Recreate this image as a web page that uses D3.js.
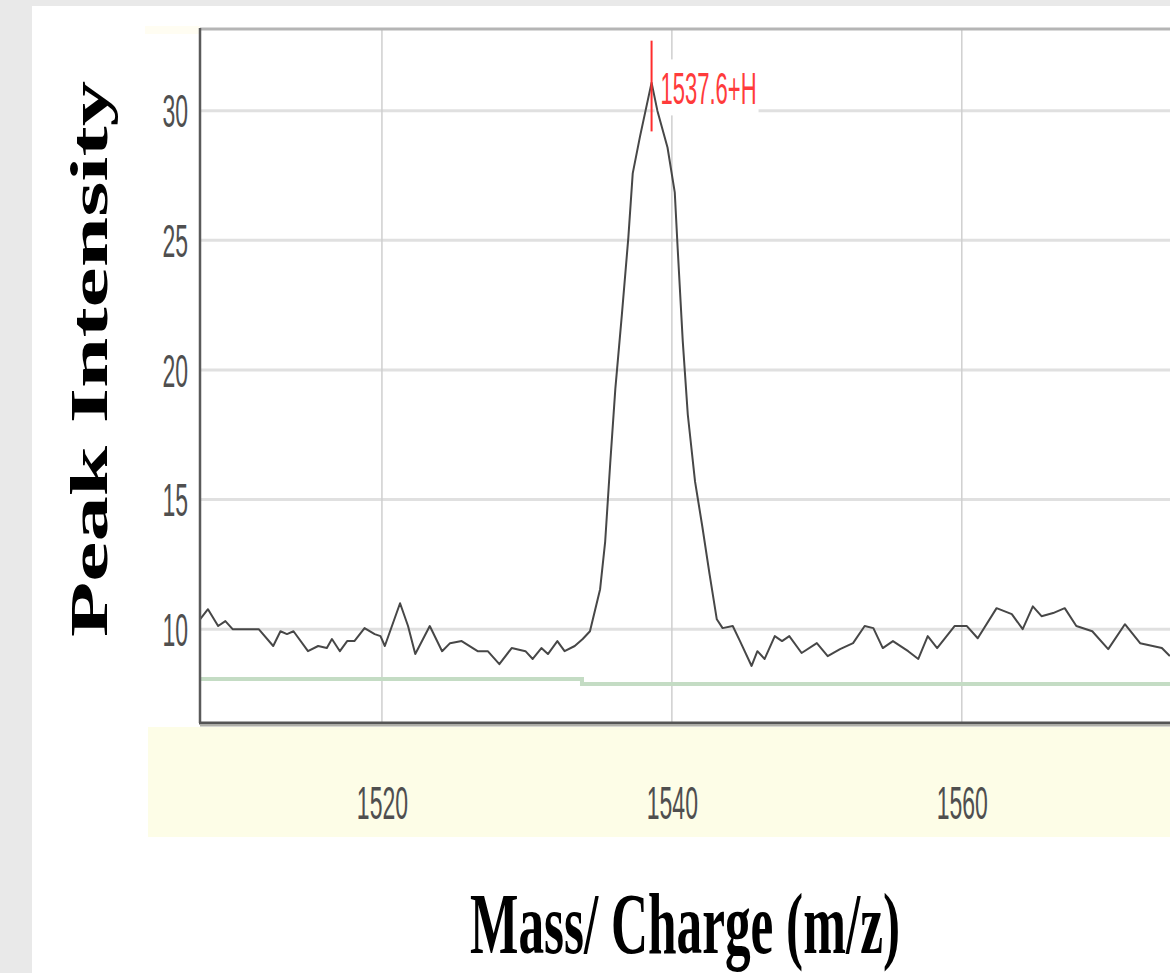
<!DOCTYPE html>
<html>
<head>
<meta charset="utf-8">
<script src="https://cdn.jsdelivr.net/npm/d3@7"></script>
<style>
  html, body { margin: 0; padding: 0; background: #e9e9e9; }
  svg { display: block; }
</style>
</head>
<body>
<svg id="chart" width="1170" height="973"></svg>
<script>
// ---- data ----
const mzValues = [
  1507.45, 1508.0, 1508.7, 1509.2, 1509.7, 1511.5, 1512.5, 1513.0, 1513.45, 1513.9,
  1514.9, 1515.6, 1516.2, 1516.55, 1517.1, 1517.6, 1518.1, 1518.8, 1519.5, 1519.9,
  1520.2, 1521.25, 1521.8, 1522.3, 1523.3, 1524.15, 1524.7, 1525.5, 1526.6, 1527.3,
  1528.1, 1528.95, 1529.9, 1530.4, 1531.0, 1531.45, 1532.1, 1532.6, 1533.3, 1533.85,
  1534.35, 1535.05, 1535.4, 1535.75, 1536.1, 1536.55, 1537.0, 1537.3, 1537.8, 1538.6,
  1539.0, 1539.7, 1540.2, 1540.4, 1540.75, 1541.1, 1541.6, 1542.1, 1542.6, 1543.1,
  1543.5, 1544.2, 1544.7, 1545.5, 1545.9, 1546.4, 1547.1, 1547.6, 1548.1, 1548.95,
  1550.0, 1550.75, 1551.6, 1552.5, 1553.3, 1553.9, 1554.55, 1555.25, 1556.3, 1557.0,
  1557.65, 1558.3, 1559.5, 1560.35, 1561.1, 1562.4, 1563.45, 1564.2, 1564.9, 1565.5,
  1566.3, 1567.1, 1567.9, 1569.0, 1570.1, 1571.25, 1572.3, 1573.8, 1574.35
];
const intensityValues = [
  10.38, 10.77, 10.12, 10.31, 10.0, 10.0, 9.35, 9.92, 9.81, 9.92,
  9.15, 9.35, 9.27, 9.62, 9.15, 9.54, 9.54, 10.04, 9.81, 9.73,
  9.35, 11.0, 10.12, 9.04, 10.12, 9.15, 9.46, 9.54, 9.15, 9.15,
  8.65, 9.27, 9.15, 8.85, 9.27, 9.04, 9.54, 9.15, 9.35, 9.62,
  9.92, 11.54, 13.38, 16.42, 19.27, 22.12, 25.12, 27.58, 29.0, 31.08,
  30.0, 28.58, 26.85, 24.69, 21.12, 18.27, 15.69, 13.96, 12.12, 10.38,
  10.04, 10.12, 9.54, 8.58, 9.15, 8.85, 9.73, 9.54, 9.73, 9.08,
  9.46, 8.96, 9.23, 9.46, 10.12, 10.04, 9.27, 9.54, 9.15, 8.85,
  9.73, 9.27, 10.12, 10.12, 9.65, 10.81, 10.58, 10.0, 10.88, 10.5,
  10.62, 10.81, 10.12, 9.92, 9.23, 10.19, 9.46, 9.27, 8.96
];
const baselineMz = [1507.45, 1533.8, 1576];
const baselineIntensity = [8.08, 7.88, 7.88];
const xTicks = [1520, 1540, 1560];
const yTicks = [10, 15, 20, 25, 30];
const peakMz = [1538.6];
const peakMarkerTop = [32.7];
const peakMarkerBottom = [29.2];
const peakLabels = ["1537.6+H"];
const xDomain = [1507.45, 1574.5];
const yDomain = [6.38, 33.15];
const xTitle = "Mass/ Charge (m/z)";
const yTitle = "Peak Intensity";

// ---- layout ----
const svg = d3.select("#chart");
const W = 1170, H = 973;
const plot = { left: 200, right: 1172, top: 29, bottom: 723 };

const x = d3.scaleLinear().domain(xDomain).range([plot.left, plot.right]);
const y = d3.scaleLinear().domain(yDomain).range([plot.bottom, plot.top]);

// page background + white panel
svg.append("rect").attr("width", W).attr("height", H).attr("fill", "#e9e9e9");
svg.append("rect").attr("x", 32).attr("y", 6).attr("width", W - 32).attr("height", H - 6).attr("fill", "#ffffff");

// faint yellow bits
svg.append("rect").attr("x", 145).attr("y", 26).attr("width", 55).attr("height", 8).attr("fill", "#fffdf2");
svg.append("rect").attr("x", 148).attr("y", 727).attr("width", W - 148).attr("height", 110).attr("fill", "#fdfde7");

// clip
svg.append("defs").append("clipPath").attr("id", "plotclip")
  .append("rect").attr("x", plot.left).attr("y", plot.top)
  .attr("width", plot.right - plot.left).attr("height", plot.bottom - plot.top);

// gridlines
const grid = svg.append("g");
grid.selectAll("line.h").data(yTicks).join("line").attr("class", "h")
  .attr("x1", plot.left).attr("x2", plot.right)
  .attr("y1", d => y(d)).attr("y2", d => y(d))
  .attr("stroke", "#e0e0e0").attr("stroke-width", 3);
grid.selectAll("line.v").data(xTicks).join("line").attr("class", "v")
  .attr("y1", plot.top).attr("y2", plot.bottom)
  .attr("x1", d => x(d)).attr("x2", d => x(d))
  .attr("stroke", "#cfcfcf").attr("stroke-width", 1.5);

// top border
svg.append("line").attr("x1", plot.left).attr("x2", plot.right)
  .attr("y1", plot.top).attr("y2", plot.top)
  .attr("stroke", "#b5b5b5").attr("stroke-width", 3);

// layer for label backgrounds (under the trace)
const boxLayer = svg.append("g");

const g = svg.append("g").attr("clip-path", "url(#plotclip)");

// green baseline
const baseData = baselineMz.map((m, i) => [m, baselineIntensity[i]]);
g.append("path").datum(baseData)
  .attr("d", d3.line().x(d => x(d[0])).y(d => y(d[1])).curve(d3.curveStepAfter))
  .attr("fill", "none").attr("stroke", "#c4dcc4").attr("stroke-width", 4);

// spectrum trace
const traceData = mzValues.map((m, i) => [m, intensityValues[i]]);
g.append("path").datum(traceData)
  .attr("d", d3.line().x(d => x(d[0])).y(d => y(d[1])))
  .attr("fill", "none").attr("stroke", "#474747").attr("stroke-width", 2)
  .attr("stroke-linejoin", "round");

// peak label (white box + red text + red marker)
peakMz.forEach((pm, i) => {
  const px = x(pm);
  const lg = svg.append("g");
  const t = lg.append("text")
    .attr("font-family", "Liberation Sans, Arial, sans-serif")
    .attr("font-size", 44)
    .attr("fill", "#ff3b3b")
    .attr("transform", `translate(${px + 9},${y(peakMarkerBottom[i]) - 27}) scale(0.5,1)`)
    .text(peakLabels[i]);
  const bb = t.node().getBBox();
  boxLayer.append("rect").attr("fill", "#ffffff")
    .attr("x", px + 3).attr("y", y(peakMarkerBottom[i]) - 72)
    .attr("width", bb.width * 0.5 + 8).attr("height", 56);
  lg.append("line").attr("x1", px).attr("x2", px)
    .attr("y1", y(peakMarkerTop[i])).attr("y2", y(peakMarkerBottom[i]))
    .attr("stroke", "#ff2d2d").attr("stroke-width", 2);
});

// axes
const yAxis = svg.append("g").attr("transform", `translate(${plot.left},0)`)
  .call(d3.axisLeft(y).tickValues(yTicks).tickSize(0).tickFormat(d3.format("d")));
yAxis.select(".domain").remove();
yAxis.selectAll("text")
  .attr("x", 0).attr("dy", "0.35em")
  .attr("transform", "translate(-12,0) scale(0.5,1)")
  .attr("font-family", "Liberation Sans, Arial, sans-serif")
  .attr("font-size", 46).attr("fill", "#4f4f4f").attr("text-anchor", "end");

const xAxis = svg.append("g").attr("transform", `translate(0,${plot.bottom})`)
  .call(d3.axisBottom(x).tickValues(xTicks).tickSize(0).tickFormat(d3.format("d")));
xAxis.select(".domain").remove();
xAxis.selectAll("text")
  .attr("y", 0).attr("dy", "0.35em")
  .attr("transform", "translate(0,80) scale(0.5,1)")
  .attr("font-family", "Liberation Sans, Arial, sans-serif")
  .attr("font-size", 46).attr("fill", "#4f4f4f").attr("text-anchor", "middle");

// axis lines
svg.append("line").attr("x1", plot.left).attr("x2", plot.left)
  .attr("y1", plot.top - 1).attr("y2", plot.bottom)
  .attr("stroke", "#5a5a5a").attr("stroke-width", 2.5);
svg.append("line").attr("x1", plot.left - 1).attr("x2", plot.right)
  .attr("y1", plot.bottom).attr("y2", plot.bottom)
  .attr("stroke", "#555555").attr("stroke-width", 3);
svg.append("line").attr("x1", plot.left).attr("x2", plot.right)
  .attr("y1", plot.bottom + 2.5).attr("y2", plot.bottom + 2.5)
  .attr("stroke", "#b0b0a8").attr("stroke-width", 2);

// titles (condensed to match proportions)
function fitScale(sel, targetWidth) {
  const w = sel.node().getComputedTextLength();
  return targetWidth / w;
}
const xt = svg.append("text")
  .attr("font-family", "Liberation Serif, Times New Roman, serif")
  .attr("font-weight", "bold").attr("font-size", 86).attr("fill", "#000")
  .attr("text-anchor", "middle").text(xTitle);
const sx = fitScale(xt, 430);
xt.attr("transform", `translate(685,953) scale(${sx},1)`);

const yt = svg.append("text")
  .attr("font-family", "Liberation Serif, Times New Roman, serif")
  .attr("font-weight", "bold").attr("font-size", 53).attr("fill", "#000")
  .attr("text-anchor", "middle").text(yTitle);
const sy = fitScale(yt, 556);
yt.attr("transform", `translate(107,359) rotate(-90) scale(${sy},1)`);
</script>
</body>
</html>
